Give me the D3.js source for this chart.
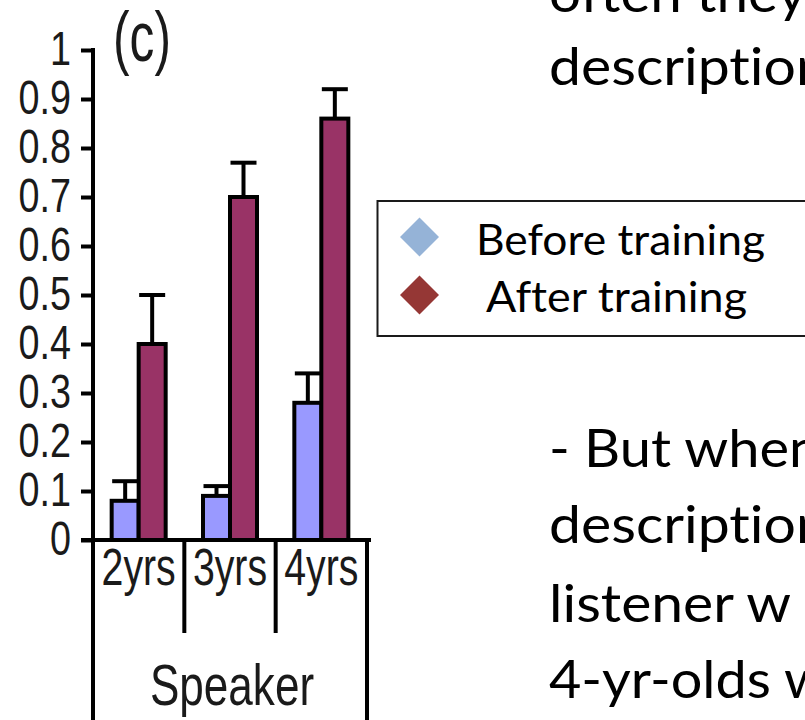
<!DOCTYPE html>
<html><head><meta charset="utf-8">
<script src="https://cdn.jsdelivr.net/npm/d3@7"></script>
<style>html,body{margin:0;padding:0;background:#fff;overflow:hidden}
text{font-variant-ligatures:none;font-feature-settings:"liga" 0,"clig" 0;}</style>
</head><body>
<svg id="chart" width="805" height="720"></svg>
<script>
// ---- data ----
const categories = ["2yrs", "3yrs", "4yrs"];
const seriesNames = ["Before training", "After training"];
const beforeValues = [0.08, 0.09, 0.28];
const afterValues = [0.40, 0.70, 0.86];
const beforeErrors = [0.04, 0.02, 0.06];
const afterErrors = [0.10, 0.07, 0.06];
const yTicks = [0, 0.1, 0.2, 0.3, 0.4, 0.5, 0.6, 0.7, 0.8, 0.9, 1];
const yTickLabels = ["0", "0.1", "0.2", "0.3", "0.4", "0.5", "0.6", "0.7", "0.8", "0.9", "1"];
const axisTitle = "Speaker";
const panelLabel = "(c)";
const barColors = ["#9999ff", "#993366"];
const legendColors = ["#95b3d7", "#953735"];
const bodyTop = ["often they", "descriptions"];
const bodyBottom = ["- But when", "descriptions", "listener w", "4-yr-olds w"];

// ---- layout ----
const svg = d3.select("#chart");
const y = d3.scaleLinear().domain([0, 1]).range([540, 50]);
const x = d3.scaleBand().domain(categories).range([93, 367]);
const sub = d3.scaleBand().domain(seriesNames).range([-27, 27]);
const chartFont = "'Liberation Sans', Arial, sans-serif";
const SX = 0.77;

const series = [
  { name: seriesNames[0], values: beforeValues, errors: beforeErrors, color: barColors[0] },
  { name: seriesNames[1], values: afterValues, errors: afterErrors, color: barColors[1] }
];

// error bars (drawn under bars)
const eg = svg.append("g").attr("stroke", "#000").attr("stroke-width", 4);
series.forEach(s => {
  categories.forEach((c, i) => {
    const cx = x(c) + x.bandwidth() / 2 + sub(s.name) + sub.bandwidth() / 2;
    const top = y(s.values[i] + s.errors[i]);
    eg.append("line").attr("x1", cx).attr("x2", cx).attr("y1", y(s.values[i])).attr("y2", top);
    eg.append("line").attr("x1", cx - 13).attr("x2", cx + 13).attr("y1", top).attr("y2", top);
  });
});

// bars
series.forEach(s => {
  svg.append("g").selectAll("rect").data(categories).join("rect")
    .attr("x", c => x(c) + x.bandwidth() / 2 + sub(s.name))
    .attr("width", sub.bandwidth())
    .attr("y", (c, i) => y(s.values[i]))
    .attr("height", (c, i) => y(0) - y(s.values[i]))
    .attr("fill", s.color)
    .attr("stroke", "#000").attr("stroke-width", 4);
});

// y axis
const yAxis = svg.append("g").attr("transform", "translate(93,0)")
  .call(d3.axisLeft(y).tickValues(yTicks).tickSize(12).tickSizeOuter(0).tickFormat(""));
yAxis.selectAll("path, line").attr("stroke", "#000").attr("stroke-width", 4);
yAxis.select("path").attr("d", `M0,${y(1) - 2}V720`);

svg.append("g").selectAll("text").data(yTicks).join("text")
  .attr("transform", d => `translate(71,${y(d) + 15}) scale(${SX},1)`)
  .attr("text-anchor", "end")
  .attr("font-family", chartFont).attr("font-size", 49).attr("fill", "#1a1a1a")
  .text((d, i) => yTickLabels[i]);

// x axis line and category dividers
const xr = x.range();
svg.append("line").attr("x1", 81).attr("x2", xr[1] + 4).attr("y1", y(0)).attr("y2", y(0))
  .attr("stroke", "#000").attr("stroke-width", 4);
categories.slice(1).forEach(c => {
  svg.append("line").attr("x1", x(c)).attr("x2", x(c)).attr("y1", y(0)).attr("y2", 633)
    .attr("stroke", "#000").attr("stroke-width", 4);
});
svg.append("line").attr("x1", xr[1]).attr("x2", xr[1]).attr("y1", y(0)).attr("y2", 720)
  .attr("stroke", "#000").attr("stroke-width", 4);

svg.append("g").selectAll("text").data(categories).join("text")
  .attr("transform", c => `translate(${x(c) + x.bandwidth() / 2},585) scale(${SX},1)`)
  .attr("text-anchor", "middle")
  .attr("font-family", chartFont).attr("font-size", 51).attr("fill", "#1a1a1a")
  .text(c => c);

svg.append("text")
  .attr("transform", `translate(${(xr[0] + xr[1]) / 2 + 2},705) scale(0.76,1)`)
  .attr("text-anchor", "middle")
  .attr("font-family", chartFont).attr("font-size", 58).attr("fill", "#1a1a1a")
  .text(axisTitle);

svg.append("text")
  .attr("transform", `translate(113,61) scale(0.70,1)`)
  .attr("font-family", chartFont).attr("font-size", 71).attr("fill", "#1a1a1a")
  .text(panelLabel);

// legend
svg.append("rect").attr("x", 377.5).attr("y", 201).attr("width", 500).attr("height", 135)
  .attr("fill", "#fff").attr("stroke", "#1a1a1a").attr("stroke-width", 2);
const legendY = [237, 295];
const legendText = [{ x: 476, len: 289, base: 255 }, { x: 486, len: 261, base: 311.5 }];
seriesNames.forEach((n, i) => {
  svg.append("path")
    .attr("d", d3.symbol(d3.symbolSquare, 760)())
    .attr("transform", `translate(419.5,${legendY[i]}) rotate(45)`)
    .attr("fill", legendColors[i]);
  svg.append("text")
    .attr("x", legendText[i].x).attr("y", legendText[i].base)
    .attr("textLength", legendText[i].len).attr("lengthAdjust", "spacingAndGlyphs")
    .attr("font-family", "Lato, 'Open Sans', sans-serif").attr("font-size", 42).attr("fill", "#000")
    .text(n);
});

// body text (slide text clipped at the right edge); each line is stretched so that
// a visible prefix ends where it ends in the reference
const bodyFont = "Lato, 'Open Sans', sans-serif";
const bodyLines = [
  { t: bodyTop[0], b: 12, pre: "often the", w: 229 },
  { t: bodyTop[1], b: 85, pre: "descriptio", w: 247 },
  { t: bodyBottom[0], b: 467, pre: "- But whe", w: 240 },
  { t: bodyBottom[1], b: 543, pre: "descriptio", w: 247 },
  { t: bodyBottom[2], b: 622, pre: "listener w", w: 242 },
  { t: bodyBottom[3], b: 698, pre: "4-yr-olds", w: 222 }
];
bodyLines.forEach(d => {
  const probe = svg.append("text").attr("font-family", bodyFont).attr("font-size", 53)
    .attr("x", 0).attr("y", -100).text(d.pre);
  d.sx = d.w / probe.node().getComputedTextLength();
  probe.remove();
});
svg.append("g").selectAll("text").data(bodyLines).join("text")
  .attr("transform", d => `translate(549,${d.b}) scale(${d.sx},1)`)
  .attr("font-family", bodyFont).attr("font-size", 53).attr("fill", "#000")
  .text(d => d.t);
</script>
</body></html>
